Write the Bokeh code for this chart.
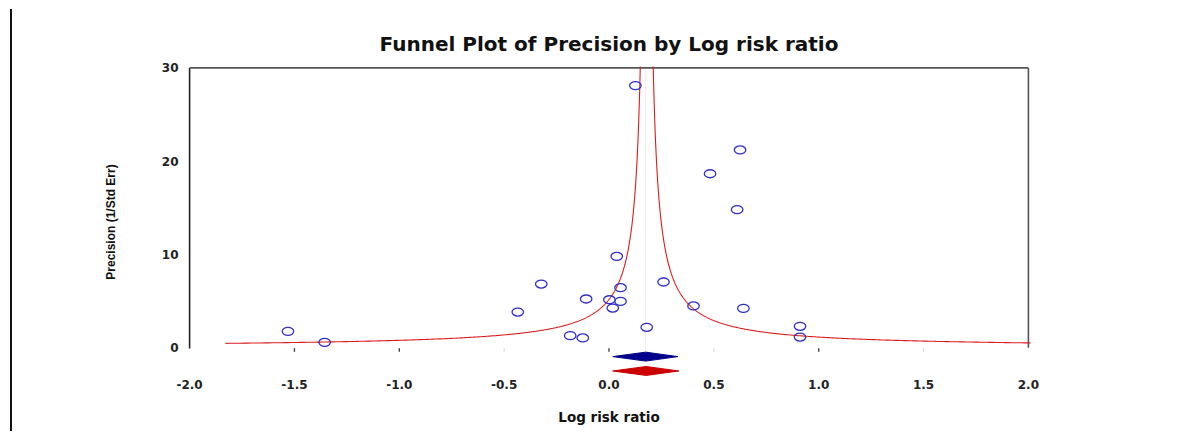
import numpy as np
from bokeh.plotting import figure
from bokeh.models import Range1d, FixedTicker, Div
from bokeh.layouts import row
from bokeh.embed import file_html
from bokeh.resources import INLINE

# ---- data ----
log_rr = [0.126, 0.625, 0.482, 0.611, 0.037, -0.323, 0.055, 0.260, -0.109, 0.002,
          0.055, 0.018, -0.435, 0.403, 0.641, 0.180, 0.911, 0.911, -0.185, -0.125,
          -1.531, -1.356]
precision = [28.1, 21.2, 18.65, 14.8, 9.79, 6.82, 6.43, 7.04, 5.22, 5.14,
             4.96, 4.25, 3.82, 4.47, 4.21, 2.18, 2.29, 1.14, 1.29, 1.04,
             1.75, 0.57]

pooled_est = [0.175, 0.177]
pooled_lo = [0.018, 0.018]
pooled_hi = [0.328, 0.333]

funnel_center = 0.18
funnel_halfwidth_k = 0.93
funnel_min_precision = 0.463

x_ticks = [-2.0, -1.5, -1.0, -0.5, 0.0, 0.5, 1.0, 1.5, 2.0]
x_tick_labels = ["-2.0", "-1.5", "-1.0", "-0.5", "0.0", "0.5", "1.0", "1.5", "2.0"]
y_ticks = [0, 10, 20, 30]
y_tick_labels = ["0", "10", "20", "30"]

# ---- styles / layout ----
diamond_y = [-0.96, -2.5]
diamond_half_h = 0.48
diamond_colors = ["#00008b", "#cc0000"]

p = figure(width=1165, height=429, output_backend="svg", toolbar_location=None,
           x_range=Range1d(-2.01, 2.01), y_range=Range1d(-3.2, 30.15),
           min_border_left=175, min_border_right=147, min_border_top=66,
           min_border_bottom=52)
p.outline_line_color = None
p.grid.visible = False
p.background_fill_color = "white"
p.border_fill_color = "white"

p.title.text = "Funnel Plot of Precision by Log risk ratio"
p.title.align = "center"
p.title.text_font = "DejaVu Sans"
p.title.text_font_style = "bold"
p.title.text_font_size = "20px"
p.title.text_color = "#111111"
p.title.standoff = 22

# axes
xa = p.xaxis[0]
xa.ticker = FixedTicker(ticks=x_ticks)
xa.major_label_overrides = {t: l for t, l in zip(x_ticks, x_tick_labels)}
xa.axis_line_color = None
xa.major_tick_line_color = None
xa.minor_tick_line_color = None
xa.major_tick_out = 0
xa.major_tick_in = 0
xa.major_label_standoff = 2
xa.major_label_text_font = "DejaVu Sans"
xa.major_label_text_font_style = "bold"
xa.major_label_text_font_size = "12px"
xa.major_label_text_color = "#222222"
xa.axis_label = "Log risk ratio"
xa.axis_label_text_font = "DejaVu Sans"
xa.axis_label_text_font_style = "bold"
xa.axis_label_text_font_size = "13.5px"
xa.axis_label_text_color = "#111111"
xa.axis_label_standoff = 17

ya = p.yaxis[0]
ya.ticker = FixedTicker(ticks=y_ticks)
ya.major_label_overrides = {t: l for t, l in zip(y_ticks, y_tick_labels)}
ya.axis_line_color = None
ya.major_tick_line_color = None
ya.minor_tick_line_color = None
ya.major_tick_out = 0
ya.major_tick_in = 0
ya.major_label_standoff = 9
ya.major_label_text_font = "DejaVu Sans"
ya.major_label_text_font_style = "bold"
ya.major_label_text_font_size = "12px"
ya.major_label_text_color = "#222222"
ya.axis_label = "Precision (1/Std Err)"
ya.axis_label_text_font = "Liberation Sans"
ya.axis_label_text_font_style = "bold"
ya.axis_label_text_font_size = "12px"
ya.axis_label_text_color = "#111111"
ya.axis_label_standoff = 41

# faint line at pooled estimate
p.segment(x0=[pooled_est[0]], y0=[-1.0], x1=[pooled_est[0]], y1=[30], line_color="#eeeeee", line_width=1)

# frame (left, top, right — no bottom)
p.segment(x0=[-2.0, -2.0, 2.0], y0=[-0.1, 30, 0], x1=[-2.0, 2.0, 2.0], y1=[30, 30, 30],
          line_color=["#222222", "#555555", "#555555"], line_width=1.6)

# small x tick marks at y=0
dark_ticks = [-1.5, -1.0, 0.0, 1.0]
faint_ticks = [-0.5, 0.5, 1.5]
p.segment(x0=dark_ticks, y0=[-0.05] * len(dark_ticks), x1=dark_ticks, y1=[-0.45] * len(dark_ticks),
          line_color="#333333", line_width=1.3)
p.segment(x0=faint_ticks, y0=[-0.05] * len(faint_ticks), x1=faint_ticks, y1=[-0.45] * len(faint_ticks),
          line_color="#dddddd", line_width=1.3)

# funnel limits
prec_curve = np.geomspace(funnel_min_precision, 40, 500)
p.line(funnel_center - funnel_halfwidth_k / prec_curve, prec_curve, line_color="#dd1c1c", line_width=1.1)
p.line(funnel_center + funnel_halfwidth_k / prec_curve, prec_curve, line_color="#dd1c1c", line_width=1.1)

# studies
p.ellipse(x=log_rr, y=precision, width=11.5, height=8, width_units="screen", height_units="screen",
          fill_color=None, line_color="#2f2fc8", line_width=1.3)

# pooled diamonds
xs, ys = [], []
for est, lo, hi, yc in zip(pooled_est, pooled_lo, pooled_hi, diamond_y):
    xs.append([lo, est, hi, est])
    ys.append([yc, yc + diamond_half_h, yc, yc - diamond_half_h])
p.patches(xs, ys, fill_color=diamond_colors, line_color=diamond_colors, line_width=1)

edge = Div(text='<div style="width:2px;height:422px;background:#111111;"></div>',
           width=2, height=422, margin=(9, 0, 0, 10))

layout = row(edge, p)
open("out.html", "w").write(file_html(layout, INLINE))
